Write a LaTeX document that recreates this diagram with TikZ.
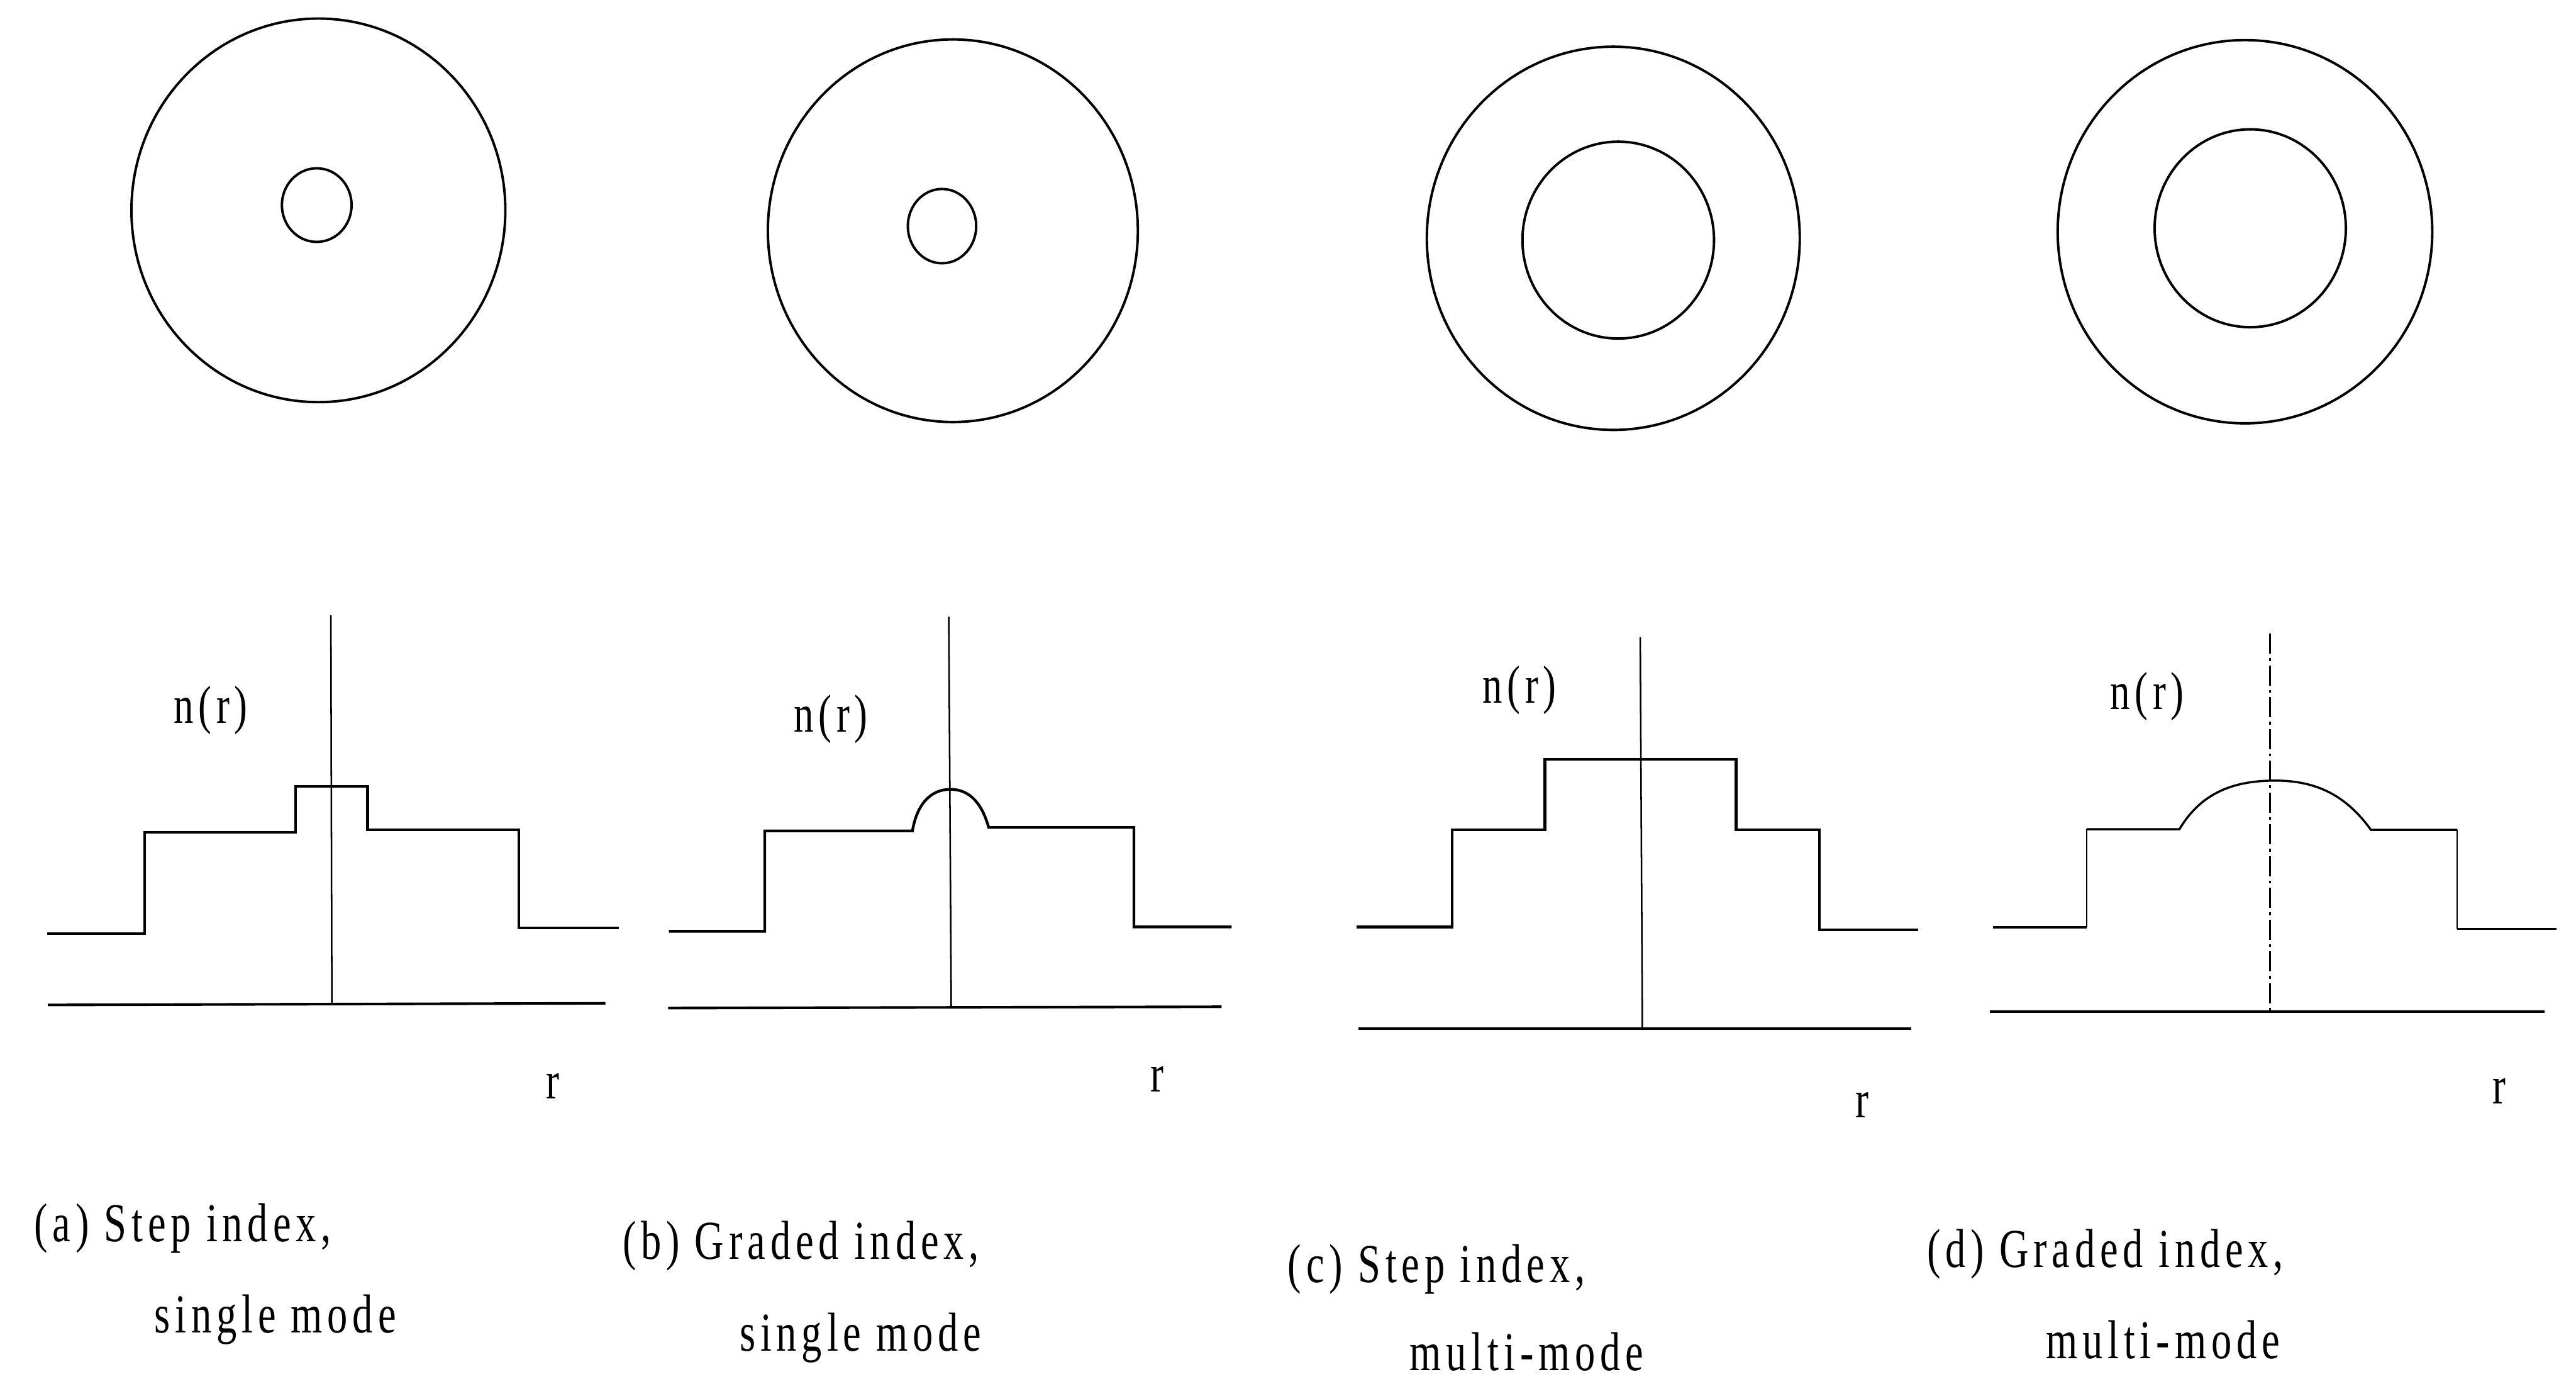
\documentclass[tikz,border=0pt]{standalone}
\usepackage{fontspec}
\newfontfamily\lblfont[FakeStretch=0.74,LetterSpace=9]{Liberation Serif}
\begin{document}
\begin{tikzpicture}[x=0.4mm,y=-0.4mm,
  ring/.style={line width=1.7pt},
  prof/.style={line width=1.9pt, line join=miter},
  profd/.style={line width=1.5pt, line join=miter},
  thinriser/.style={line width=0.9pt},
  baseax/.style={line width=1.8pt},
  cline/.style={line width=1.1pt},
  chain/.style={line width=1.0pt, dash pattern=on 14pt off 3pt on 2pt off 3pt},
  lbl/.style={font=\lblfont\fontsize{38}{44}\selectfont, inner sep=0pt, anchor=base},
  nlab/.style={font=\lblfont\fontsize{37}{44}\selectfont, inner sep=0pt, anchor=base}]
\useasboundingbox (0,0) rectangle (1568,839);

% ---- cross-sections ----
\draw[ring] (193.8,128) ellipse [x radius=113.8, y radius=116.7];
\draw[ring] (192.8,124.8) ellipse [x radius=21.2, y radius=22.4];
\draw[ring] (580,140.4) ellipse [x radius=112.6, y radius=116.4];
\draw[ring] (573.4,137.6) ellipse [x radius=20.8, y radius=22.6];
\draw[ring] (982,145) ellipse [x radius=113.5, y radius=116.6];
\draw[ring] (985,146.1) ellipse [x radius=58.3, y radius=59.9];
\draw[ring] (1366.5,141) ellipse [x radius=114, y radius=116.6];
\draw[ring] (1369.7,138.9) ellipse [x radius=58.2, y radius=60.2];

% ---- (a) step index, single mode ----
\draw[prof] (28.6,568.2) -- (88.1,568.2) -- (88.1,506.4) -- (179.8,506.4) -- (179.8,478.6)
  -- (223.7,478.6) -- (223.7,505) -- (315.9,505) -- (315.9,564.7) -- (376.7,564.7);
\draw[baseax] (29.1,611.5) -- (368.5,610.5);
\draw[cline] (201.4,374.3) -- (202,611);

% ---- (b) graded index, single mode ----
\draw[prof] (407.2,566.7) -- (465.5,566.7) -- (465.5,505.6) -- (555.4,505.6)
  .. controls (558,490) and (566,480.3) .. (578.5,480.3)
  .. controls (591,480.3) and (598,490) .. (601.8,503.5)
  -- (690.2,503.5) -- (690.2,564) -- (749.7,564);
\draw[baseax] (406.7,613.4) -- (743.6,612.6);
\draw[cline] (577.5,375.3) -- (579,613);

% ---- (c) step index, multi-mode ----
\draw[prof] (825.7,564) -- (884,564) -- (884,505) -- (940.4,505) -- (940.4,462)
  -- (1056.7,462) -- (1056.7,505) -- (1107.4,505) -- (1107.4,565.7) -- (1167.7,565.7);
\draw[baseax] (827,626) -- (1163.3,626);
\draw[cline] (998.4,387.7) -- (999.7,625.8);

% ---- (d) graded index, multi-mode ----
\draw[profd] (1213,564.3) -- (1270,564.3);
\draw[thinriser] (1270,564.3) -- (1270,504.6);
\draw[profd] (1270,504.6) -- (1326.6,504.6)
  .. controls (1340,482) and (1360,475) .. (1385,475)
  .. controls (1410,475) and (1428,484) .. (1443.2,505) -- (1495.8,505);
\draw[thinriser] (1495.8,505) -- (1495.8,565.3);
\draw[profd] (1495.8,565.3) -- (1556,565.3);
\draw[baseax] (1211.3,615.7) -- (1548.7,615.7);
\draw[chain] (1381.7,385.6) -- (1381.7,615.1);

% ---- axis labels ----
\node[nlab] (na) at (128.3,440) {n(r)};
\node[nlab] (nb) at (505.7,445.3) {n(r)};
\node[nlab] (nc) at (925,427.8) {n(r)};
\node[nlab] (nd) at (1307,431.5) {n(r)};
\node[nlab] (ra) at (336.4,668.6) {r};
\node[nlab] (rb) at (704.4,664.5) {r};
\node[nlab] (rc) at (1133.5,680) {r};
\node[nlab] (rd) at (1521.4,671.7) {r};

% ---- captions ----
\node[lbl] (la1) at (111.25,755.6) {(a) Step index,};
\node[lbl] (la2) at (167.5,811) {single mode};
\node[lbl] (lb1) at (487.5,766) {(b) Graded index,};
\node[lbl] (lb2) at (523.8,822) {single mode};
\node[lbl] (lc1) at (874.4,780.4) {(c) Step index,};
\node[lbl] (lc2) at (929.3,834) {multi-mode};
\node[lbl] (ld1) at (1281.5,771.2) {(d) Graded index,};
\node[lbl] (ld2) at (1316.5,826.7) {multi-mode};
\end{tikzpicture}
\end{document}
